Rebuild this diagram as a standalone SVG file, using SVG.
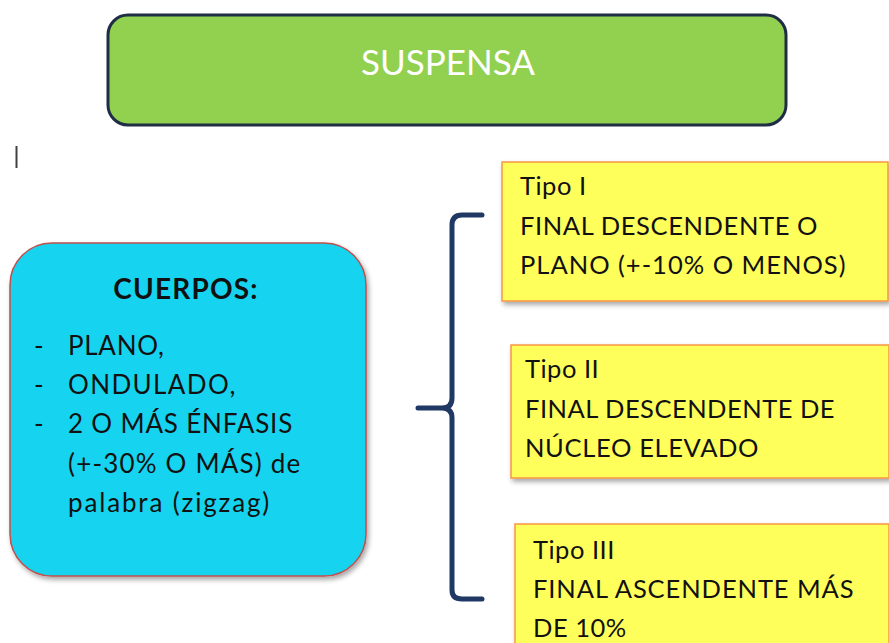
<svg xmlns="http://www.w3.org/2000/svg" width="889" height="643" viewBox="0 0 889 643">
<defs>
<filter id="sh" x="-10%" y="-10%" width="120%" height="130%">
<feDropShadow dx="2" dy="3" stdDeviation="2.5" flood-color="#000" flood-opacity="0.35"/>
</filter>
<style>
.t{font-family:Lato,"Open Sans","Liberation Sans",sans-serif;fill:#111;}
.y{font-size:25.5px;letter-spacing:0.5px;}
.b{font-size:26px;letter-spacing:0.7px;}
.yb{fill:#ffff5c;stroke:#f79646;stroke-width:1.5;filter:url(#sh);}
</style>
</defs>
<rect width="889" height="643" fill="#fff"/>
<line x1="16.5" y1="146" x2="16.5" y2="168" stroke="#404040" stroke-width="2"/>
<g id="suspensa">
<rect x="108" y="15" width="678" height="110" rx="20" fill="#92d050" stroke="#1f2d45" stroke-width="3"/>
<text x="448" y="75" text-anchor="middle" class="t" style="fill:#fff;font-size:35px">SUSPENSA</text>
</g>
<g id="cuerpos">
<rect x="10" y="243" width="356" height="333" rx="42" fill="#12d4ef" stroke="#c0504d" stroke-width="1.5" filter="url(#sh)"/>
<text x="186" y="299" text-anchor="middle" class="t" font-weight="bold" style="font-size:28px;letter-spacing:1.2px">CUERPOS:</text>
<text class="t b" x="34" y="355">-</text><text class="t b" x="68" y="355">PLANO,</text>
<text class="t b" x="34" y="394">-</text><text class="t b" x="68" y="394" textLength="168" lengthAdjust="spacing">ONDULADO,</text>
<text class="t b" x="34" y="433">-</text><text class="t b" x="68" y="433" textLength="225" lengthAdjust="spacing">2 O MÁS ÉNFASIS</text>
<text class="t b" x="68" y="473" textLength="233" lengthAdjust="spacing">(+-30% O MÁS) de</text>
<text class="t b" x="68" y="512" textLength="202" lengthAdjust="spacing">palabra (zigzag)</text>
</g>
<g id="connectors">
<path d="M482 215 H462 Q452 215 452 225 V398 Q452 408 442 408 H418 M442 408 Q452 408 452 418 V590 Q452 599 462 599 H482" fill="none" stroke="#203864" stroke-width="5" stroke-linecap="round" stroke-linejoin="round"/>
</g>
<g id="tipo1">
<rect x="502" y="162" width="386" height="139" class="yb"/>
<text class="t y" x="520" y="195">Tipo I</text>
<text class="t y" x="520" y="235" textLength="298" lengthAdjust="spacing">FINAL DESCENDENTE O</text>
<text class="t y" x="520" y="274" textLength="326" lengthAdjust="spacing">PLANO (+-10% O MENOS)</text>
</g>
<g id="tipo2">
<rect x="511" y="345" width="378" height="133" class="yb"/>
<text class="t y" x="525" y="378">Tipo II</text>
<text class="t y" x="525" y="418" textLength="310" lengthAdjust="spacing">FINAL DESCENDENTE DE</text>
<text class="t y" x="525" y="457" textLength="234" lengthAdjust="spacing">NÚCLEO ELEVADO</text>
</g>
<g id="tipo3">
<rect x="515" y="524" width="374" height="130" class="yb"/>
<text class="t y" x="533" y="559">Tipo III</text>
<text class="t y" x="533" y="598" textLength="321" lengthAdjust="spacing">FINAL ASCENDENTE MÁS</text>
<text class="t y" x="533" y="637">DE 10%</text>
</g>
</svg>
